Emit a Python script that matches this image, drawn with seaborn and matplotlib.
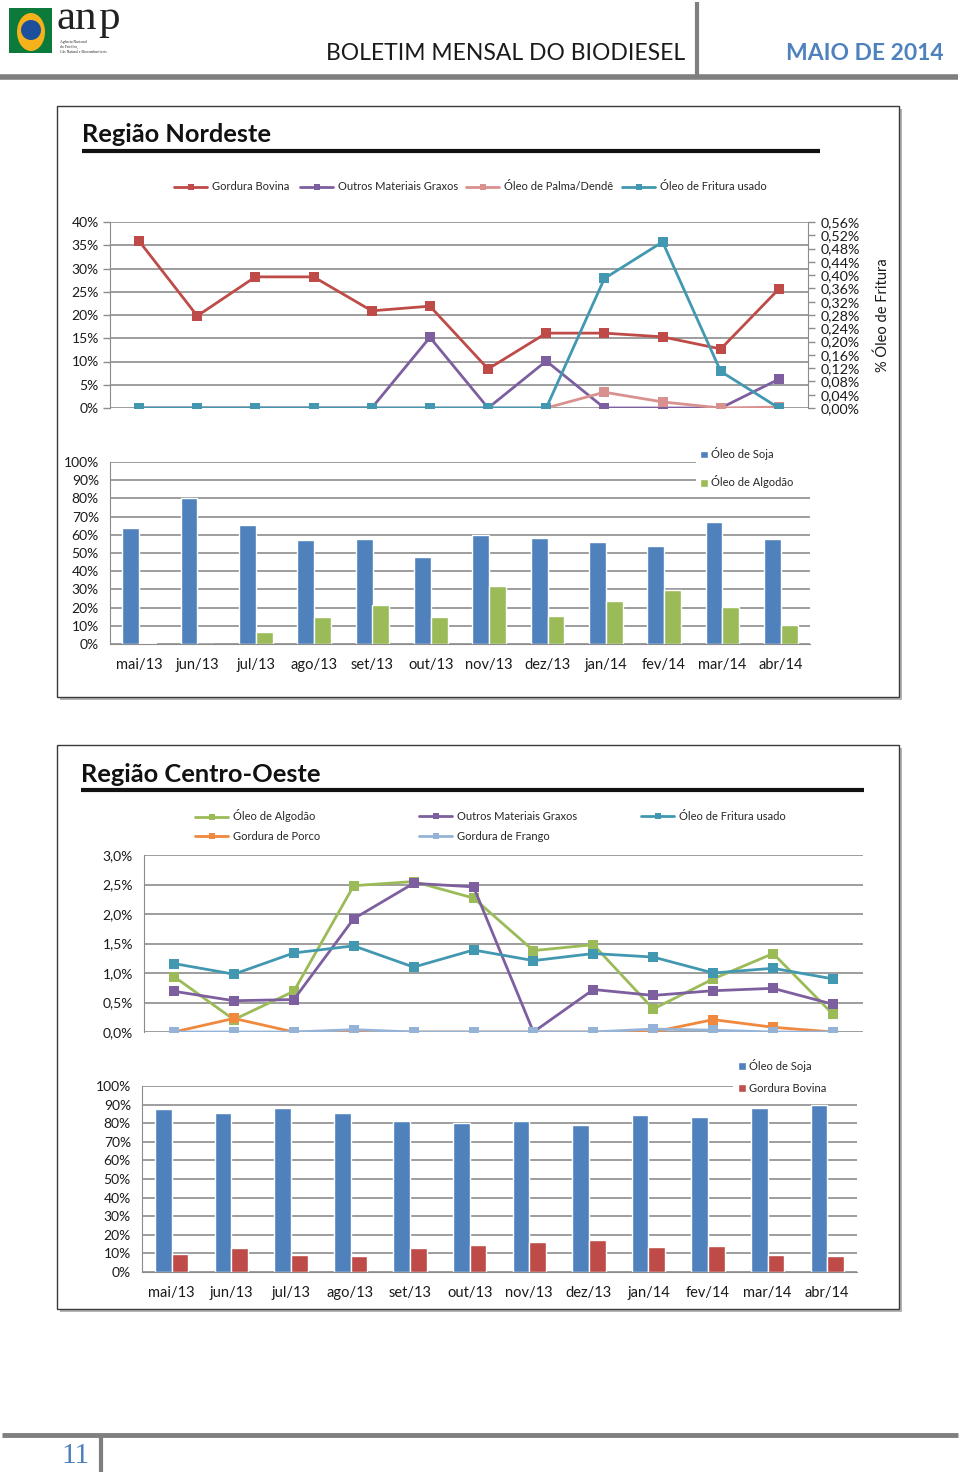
import numpy as np
import pandas as pd
import matplotlib
matplotlib.use('Agg')
import matplotlib.pyplot as plt
import seaborn as sns
from matplotlib.lines import Line2D
from matplotlib.patches import Rectangle, Patch, Ellipse

W, H = 960, 1477

meses = ['mai/13', 'jun/13', 'jul/13', 'ago/13', 'set/13', 'out/13',
         'nov/13', 'dez/13', 'jan/14', 'fev/14', 'mar/14', 'abr/14']

# Região Nordeste - materiais graxos (% ; fritura no eixo secundário)
ne_gordura_bovina = [35.9, 19.8, 28.2, 28.2, 20.9, 21.9, 8.4, 16.1, 16.1, 15.3, 12.7, 25.6]
ne_outros = [0, 0, 0, 0, 0, 15.2, 0, 10.1, 0, 0, 0, 6.2]
ne_palma = [0, 0, 0, 0, 0, 0, 0, 0, 3.4, 1.3, 0, 0.2]
ne_fritura = [0, 0, 0, 0, 0, 0, 0, 0, 0.39, 0.50, 0.11, 0]
# Região Nordeste - barras
ne_soja = [63.5, 80.3, 65.4, 56.9, 57.5, 47.7, 60.0, 58.2, 56.2, 53.6, 67.2, 57.5]
ne_algodao = [0.3, 0, 6.4, 14.7, 21.5, 15.1, 32.0, 15.5, 23.8, 29.5, 20.1, 10.5]

# Região Centro-Oeste - linhas
co_algodao = [0.94, 0.21, 0.69, 2.48, 2.55, 2.27, 1.38, 1.48, 0.39, 0.90, 1.33, 0.30]
co_outros = [0.69, 0.53, 0.55, 1.92, 2.52, 2.46, 0.0, 0.72, 0.62, 0.70, 0.74, 0.47]
co_fritura = [1.16, 0.98, 1.34, 1.46, 1.10, 1.39, 1.21, 1.33, 1.27, 1.00, 1.08, 0.90]
co_porco = [0, 0.23, 0, 0, 0, 0, 0, 0, 0, 0.21, 0.08, 0]
co_frango = [0, 0, 0, 0.04, 0, 0, 0, 0, 0.05, 0.03, 0, 0]
# Região Centro-Oeste - barras
co_soja = [87.8, 85.3, 88.2, 85.7, 81.0, 80.1, 81.4, 79.2, 84.4, 83.2, 88.0, 90.0]
co_bovina = [9.8, 12.7, 9.3, 8.6, 12.9, 14.3, 16.1, 17.2, 13.4, 14.1, 9.1, 8.8]

cores = {
    'Gordura Bovina': '#BE4B48',
    'Outros Materiais Graxos': '#7D5FA0',
    'Óleo de Palma/Dendê': '#D9918F',
    'Óleo de Fritura usado': '#4298B0',
    'Óleo de Soja': '#4F81BD',
    'Óleo de Algodão': '#9BBB59',
    'Gordura de Porco': '#F0883E',
    'Gordura de Frango': '#95B3D7',
}
GRID = '#8C8C8C'

sns.set_style('white')
plt.rcParams['font.family'] = ['Lato', 'DejaVu Sans']


def long_df(cols, names):
    frames = []
    for vals, name in zip(cols, names):
        frames.append(pd.DataFrame({'pos': np.arange(len(meses)), 'mes': meses,
                                    'valor': vals, 'serie': name}))
    return pd.concat(frames, ignore_index=True)


def fr(l, t, r, b):
    return [l / W, 1 - b / H, (r - l) / W, (b - t) / H]


def fx(x):
    return x / W


def fy(y):
    return 1 - y / H


def hline(fig, x0, x1, y, lw, color):
    fig.add_artist(Line2D([fx(x0), fx(x1)], [fy(y), fy(y)], transform=fig.transFigure,
                          color=color, linewidth=lw, solid_capstyle='butt'))


def vline(fig, x, y0, y1, lw, color):
    fig.add_artist(Line2D([fx(x), fx(x)], [fy(y0), fy(y1)], transform=fig.transFigure,
                          color=color, linewidth=lw, solid_capstyle='butt'))


def panel(fig, l, t, r, b):
    fig.add_artist(Rectangle((fx(l + 3), fy(b + 3)), (r - l) / W, (b - t) / H,
                             transform=fig.transFigure, facecolor='#B5B5B5',
                             edgecolor='none', zorder=-3))
    fig.add_artist(Rectangle((fx(l), fy(b)), (r - l) / W, (b - t) / H,
                             transform=fig.transFigure, facecolor='white',
                             edgecolor='#3A3A3A', linewidth=1, zorder=-2))


def white_box(fig, l, t, r, b):
    fig.add_artist(Rectangle((fx(l), fy(b)), (r - l) / W, (b - t) / H,
                             transform=fig.transFigure, facecolor='white',
                             edgecolor='none', zorder=4))


def entry(fig, handle, label, x, y, fs=8, hl=3.0, hh=0.7, pad=0.4):
    fig.legend([handle], [label], loc='center left', bbox_to_anchor=(fx(x), fy(y)),
               bbox_transform=fig.transFigure, frameon=False, borderpad=0,
               borderaxespad=0, handlelength=hl, handleheight=hh,
               handletextpad=pad, fontsize=fs)


def line_handle(name):
    return Line2D([], [], color=cores[name], marker='s', markersize=5,
                  markeredgewidth=0, linewidth=2)


def style_axis(ax, fs=10):
    for s in ax.spines.values():
        s.set_visible(False)
    ax.spines['left'].set_visible(True)
    ax.spines['left'].set_color(GRID)
    ax.grid(axis='y', color=GRID, linewidth=1.2)
    ax.grid(axis='x', visible=False)
    ax.set_axisbelow(True)
    ax.tick_params(axis='y', length=5, width=1, color=GRID, labelsize=fs, pad=3,
                   labelcolor='#1A1A1A')
    ax.set_xlabel('')
    ax.set_ylabel('')


def bar_axis(ax):
    style_axis(ax)
    ax.spines['bottom'].set_visible(True)
    ax.spines['bottom'].set_color(GRID)
    ax.set_xticks(range(len(meses)))
    ax.set_xticklabels(meses)
    ax.set_xticks(np.arange(-0.5, len(meses), 1), minor=True)
    ax.tick_params(axis='x', which='major', length=0, labelsize=10.5, pad=10,
                   labelcolor='#1A1A1A')
    ax.tick_params(axis='x', which='minor', length=6, width=1, color=GRID)
    ax.set_xlim(-0.5, len(meses) - 0.5)
    ax.set_ylim(0, 100)
    ax.set_yticks(range(0, 101, 10))
    ax.set_yticklabels([f'{v}%' for v in range(0, 101, 10)])


fig = plt.figure(figsize=(W / 100, H / 100), dpi=100)

# ---------- cabeçalho ----------
fig.add_artist(Rectangle((fx(9), fy(53)), 43 / W, 45 / H, transform=fig.transFigure,
                         facecolor='#0B7A3B', edgecolor='none'))
fig.add_artist(Ellipse((fx(31), fy(32)), 28 / W, 38 / H, transform=fig.transFigure,
                       facecolor='#F5B21B', edgecolor='none'))
fig.add_artist(Ellipse((fx(31), fy(30)), 20 / W, 20 / H, transform=fig.transFigure,
                       facecolor='#1C4F9C', edgecolor='none'))
fig.text(fx(57), fy(29), 'an', fontsize=31, family='Liberation Serif', color='#222222',
         va='baseline', ha='left')
fig.text(fx(98), fy(29), 'p', fontsize=31, family='Liberation Serif', color='#222222',
         va='baseline', ha='left')
for i, t in enumerate(['Agência Nacional', 'do Petróleo,', 'Gás Natural e Biocombustíveis']):
    fig.text(fx(60), fy(42 + i * 5), t, fontsize=2.7, family='Liberation Serif',
             color='#222222', va='center', ha='left')
fig.text(fx(506), fy(54), 'BOLETIM MENSAL DO BIODIESEL', fontsize=16.5, color='#1A1A1A',
         ha='center', va='center')
fig.text(fx(865), fy(54), 'MAIO DE 2014', fontsize=16.5, color='#4F81BD',
         fontweight='bold', ha='center', va='center')
vline(fig, 697, 2, 77, 3, '#7F7F7F')
hline(fig, 0, 958, 77, 4, '#7F7F7F')

# ---------- rodapé ----------
hline(fig, 2, 958, 1435, 3.5, '#7F7F7F')
vline(fig, 101, 1435, 1472, 3, '#7F7F7F')
fig.text(fx(75), fy(1456), '11', fontsize=21, family='Liberation Serif', color='#4F81BD',
         ha='center', va='center')

# ---------- painel Nordeste ----------
panel(fig, 57, 106, 899, 697)
fig.text(fx(82), fy(134), 'Região Nordeste', fontsize=18.3, fontweight='bold',
         color='#111111', ha='left', va='center')
hline(fig, 82, 820, 151, 3, '#111111')

nomes_ne = ['Gordura Bovina', 'Outros Materiais Graxos', 'Óleo de Palma/Dendê']
ax1 = fig.add_axes(fr(110, 222, 808, 408))
df1 = long_df([ne_gordura_bovina, ne_outros, ne_palma], nomes_ne)
sns.lineplot(data=df1, x='pos', y='valor', hue='serie', hue_order=nomes_ne,
             palette=cores, marker='s', markersize=6.5, markeredgewidth=0,
             linewidth=2, ax=ax1, legend=False, estimator=None, sort=False)
style_axis(ax1)
ax1.set_ylim(0, 40)
ax1.set_yticks(range(0, 41, 5))
ax1.set_yticklabels([f'{v}%' for v in range(0, 41, 5)])
ax1.set_xlim(-0.5, len(meses) - 0.5)
ax1.set_xticks([])

ax1r = ax1.twinx()
df1r = long_df([ne_fritura], ['Óleo de Fritura usado'])
sns.lineplot(data=df1r, x='pos', y='valor', hue='serie', palette=cores, marker='s',
             markersize=6.5, markeredgewidth=0, linewidth=2, ax=ax1r, legend=False,
             estimator=None, sort=False)
for s in ax1r.spines.values():
    s.set_visible(False)
ax1r.spines['right'].set_visible(True)
ax1r.spines['right'].set_color(GRID)
ax1r.set_ylim(0, 0.56)
tk = np.round(np.arange(0, 0.561, 0.04), 2)
ax1r.set_yticks(tk)
ax1r.set_yticklabels([f'{v:.2f}%'.replace('.', ',') for v in tk])
ax1r.tick_params(axis='y', length=5, width=1, color=GRID, labelsize=10.3, pad=4,
                 labelcolor='#1A1A1A')
ax1r.set_ylabel('% Óleo de Fritura', fontsize=10.5, labelpad=11, color='#1A1A1A')
ax1r.set_xlabel('')
ax1r.set_xlim(-0.5, len(meses) - 0.5)
ax1r.set_xticks([])

for name, x in zip(nomes_ne + ['Óleo de Fritura usado'], [174, 300, 466, 622]):
    entry(fig, line_handle(name), name, x, 187)

ax2 = fig.add_axes(fr(110, 462, 810, 644))
df2 = long_df([ne_soja, ne_algodao], ['Óleo de Soja', 'Óleo de Algodão'])
sns.barplot(data=df2, x='mes', y='valor', hue='serie', order=meses,
            hue_order=['Óleo de Soja', 'Óleo de Algodão'], palette=cores,
            saturation=1, width=0.58, ax=ax2, legend=False)
bar_axis(ax2)
white_box(fig, 696, 444, 812, 490)
entry(fig, Patch(facecolor=cores['Óleo de Soja']), 'Óleo de Soja', 700, 454,
      hl=0.7, hh=0.7, pad=0.25)
entry(fig, Patch(facecolor=cores['Óleo de Algodão']), 'Óleo de Algodão', 700, 482,
      hl=0.7, hh=0.7, pad=0.25)

# ---------- painel Centro-Oeste ----------
panel(fig, 57, 745, 899, 1309)
fig.text(fx(81), fy(774), 'Região Centro-Oeste', fontsize=18.3, fontweight='bold',
         color='#111111', ha='left', va='center')
hline(fig, 81, 864, 790, 3, '#111111')

nomes_co = ['Óleo de Algodão', 'Outros Materiais Graxos', 'Óleo de Fritura usado',
            'Gordura de Porco', 'Gordura de Frango']
ax3 = fig.add_axes(fr(144, 855, 863, 1032))
df3 = long_df([co_algodao, co_outros, co_fritura, co_porco, co_frango], nomes_co)
sns.lineplot(data=df3, x='pos', y='valor', hue='serie', hue_order=nomes_co,
             palette=cores, marker='s', markersize=6.5, markeredgewidth=0,
             linewidth=2, ax=ax3, legend=False, estimator=None, sort=False)
style_axis(ax3)
ax3.set_ylim(0, 3.0)
tk3 = np.round(np.arange(0, 3.01, 0.5), 1)
ax3.set_yticks(tk3)
ax3.set_yticklabels([f'{v:.1f}%'.replace('.', ',') for v in tk3])
ax3.set_xlim(-0.5, len(meses) - 0.5)
ax3.set_xticks([])

pos_leg = {'Óleo de Algodão': (195, 816), 'Outros Materiais Graxos': (419, 816),
           'Óleo de Fritura usado': (641, 816), 'Gordura de Porco': (195, 836),
           'Gordura de Frango': (419, 836)}
for name in nomes_co:
    entry(fig, line_handle(name), name, *pos_leg[name])

ax4 = fig.add_axes(fr(142, 1086, 857, 1272))
df4 = long_df([co_soja, co_bovina], ['Óleo de Soja', 'Gordura Bovina'])
sns.barplot(data=df4, x='mes', y='valor', hue='serie', order=meses,
            hue_order=['Óleo de Soja', 'Gordura Bovina'], palette=cores,
            saturation=1, width=0.56, ax=ax4, legend=False)
bar_axis(ax4)
white_box(fig, 733, 1056, 862, 1096)
entry(fig, Patch(facecolor=cores['Óleo de Soja']), 'Óleo de Soja', 738, 1065,
      hl=0.7, hh=0.7, pad=0.25)
entry(fig, Patch(facecolor='#C0504D'), 'Gordura Bovina', 738, 1088,
      hl=0.7, hh=0.7, pad=0.25)

fig.savefig('out.png', dpi=100)
